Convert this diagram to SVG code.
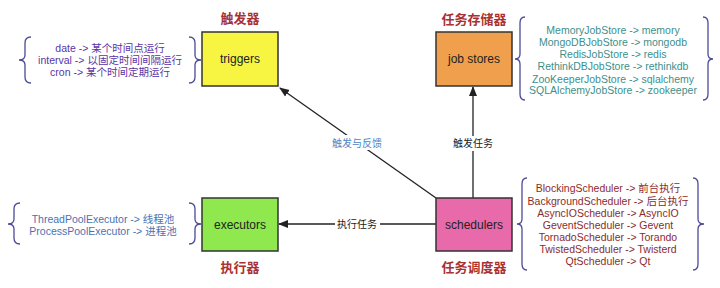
<svg xmlns="http://www.w3.org/2000/svg" width="720" height="288" viewBox="0 0 720 288">
<style>
text{font-family:"Liberation Sans","Noto Sans CJK SC",sans-serif;text-anchor:middle}
.node{stroke:#333;stroke-width:1.5}
.nl{font-size:12px;fill:#222}
.title{font-size:13px;font-weight:bold;fill:#a83232}
.item{font-size:10.5px}
.brace{fill:none;stroke:#4a4a9a;stroke-width:1.3}
.conn{stroke:#222;stroke-width:1.3;fill:none}
.cl{font-size:10px;fill:#222}
</style>
<defs>
<marker id="ah" viewBox="0 0 10 10" refX="9" refY="5" markerWidth="10" markerHeight="10" markerUnits="userSpaceOnUse" orient="auto">
<path d="M0,1 L10,5 L0,9 Z" fill="#222"/>
</marker>
</defs>
<rect width="720" height="288" fill="#fff"/>

<g id="connectors">
<line class="conn" x1="436" y1="198" x2="280" y2="88" marker-end="url(#ah)"/>
<line class="conn" x1="473" y1="198" x2="473" y2="87" marker-end="url(#ah)"/>
<line class="conn" x1="436" y1="224" x2="279" y2="224" marker-end="url(#ah)"/>
<rect x="330" y="135" width="54" height="15" fill="#fff"/>
<text x="357" y="146.5" style="font-size:10px;fill:#4a86c8">触发与反馈</text>
<rect x="450" y="136" width="46" height="15" fill="#fff"/>
<text class="cl" x="473" y="147">触发任务</text>
<rect x="335" y="217" width="45" height="14" fill="#fff"/>
<text class="cl" x="357" y="227.5">执行任务</text>
</g>

<g id="triggers">
<text class="title" x="240" y="23">触发器</text>
<rect class="node" x="202" y="32" width="76" height="54" fill="#f8f542"/>
<text class="nl" x="240" y="63">triggers</text>
<path class="brace" d="M31,37 Q25,37 25,43 L25,55 Q25,60 19,60 Q25,60 25,65 L25,77 Q25,83 31,83"/>
<path class="brace" d="M189,37 Q195,37 195,43 L195,55 Q195,60 201,60 Q195,60 195,65 L195,77 Q195,83 189,83"/>
<g class="item" fill="#5a34a6">
<text x="110" y="51.5">date -&gt; 某个时间点运行</text>
<text x="110" y="64">interval -&gt; 以固定时间间隔运行</text>
<text x="110" y="75.5">cron -&gt; 某个时间定期运行</text>
</g>
</g>

<g id="jobstores">
<text class="title" x="474" y="24">任务存储器</text>
<rect class="node" x="436" y="32" width="76" height="54" fill="#f0a04c"/>
<text class="nl" x="474" y="63">job stores</text>
<path class="brace" d="M525,17 Q520,17 520,23 L520,54 Q520,59 515,59 Q520,59 520,64 L520,94 Q520,100 525,100"/>
<path class="brace" d="M703,17 Q708,17 708,23 L708,54 Q708,59 713,59 Q708,59 708,64 L708,94 Q708,100 703,100"/>
<g class="item" fill="#3d8f8a">
<text x="613" y="34">MemoryJobStore -&gt; memory</text>
<text x="613" y="46">MongoDBJobStore -&gt; mongodb</text>
<text x="613" y="58">RedisJobStore -&gt; redis</text>
<text x="613" y="70">RethinkDBJobStore -&gt; rethinkdb</text>
<text x="613" y="82.5">ZooKeeperJobStore -&gt; sqlalchemy</text>
<text x="613" y="94">SQLAlchemyJobStore -&gt; zookeeper</text>
</g>
</g>

<g id="executors">
<rect class="node" x="202" y="198" width="76" height="53" fill="#8ee84e"/>
<text class="nl" x="240" y="229">executors</text>
<text class="title" x="240" y="272">执行器</text>
<path class="brace" d="M20,203 Q14,203 14,209 L14,219 Q14,224 8,224 Q14,224 14,229 L14,238 Q14,244 20,244"/>
<path class="brace" d="M189,203 Q195,203 195,209 L195,219 Q195,224 201,224 Q195,224 195,229 L195,238 Q195,244 189,244"/>
<g class="item" fill="#4a72b2">
<text x="103" y="222.5">ThreadPoolExecutor -&gt; 线程池</text>
<text x="103" y="234.5">ProcessPoolExecutor -&gt; 进程池</text>
</g>
</g>

<g id="schedulers">
<rect class="node" x="436" y="198" width="76" height="53" fill="#e96aaa"/>
<text class="nl" x="474" y="229">schedulers</text>
<text class="title" x="474" y="272">任务调度器</text>
<path class="brace" d="M527,178 Q522,178 522,184 L522,219 Q522,224 517,224 Q522,224 522,229 L522,264 Q522,270 527,270"/>
<path class="brace" d="M693,178 Q698,178 698,184 L698,219 Q698,224 704,224 Q698,224 698,229 L698,264 Q698,270 693,270"/>
<g class="item" fill="#8c2b2b">
<text x="608" y="191.5">BlockingScheduler -&gt; 前台执行</text>
<text x="608" y="204.5">BackgroundScheduler -&gt; 后台执行</text>
<text x="608" y="217">AsyncIOScheduler -&gt; AsyncIO</text>
<text x="608" y="229">GeventScheduler -&gt; Gevent</text>
<text x="608" y="241">TornadoScheduler -&gt; Torando</text>
<text x="608" y="253">TwistedScheduler -&gt; Twisterd</text>
<text x="608" y="265">QtScheduler -&gt; Qt</text>
</g>
</g>
</svg>
